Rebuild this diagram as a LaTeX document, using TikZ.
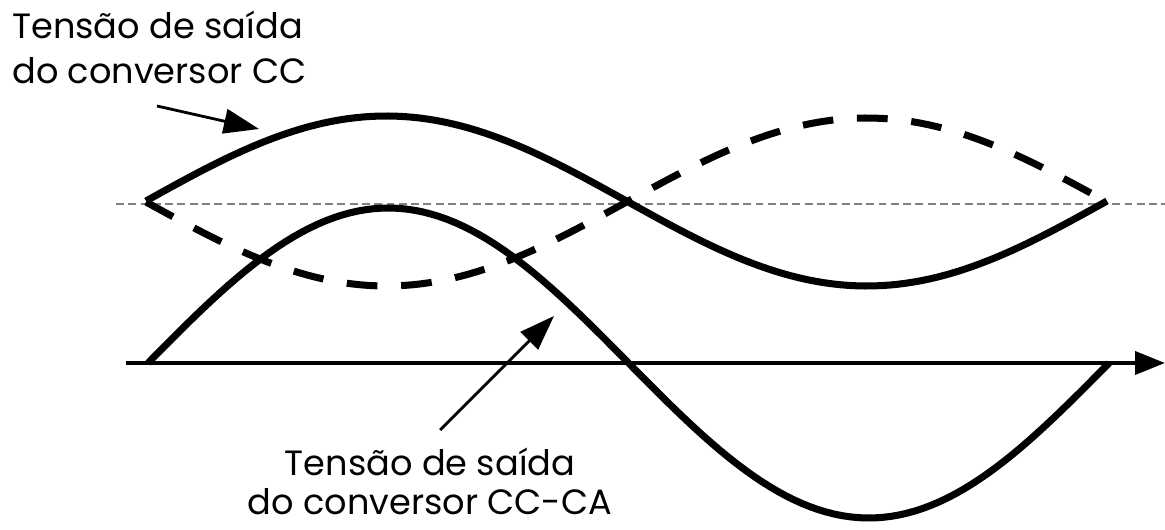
\documentclass[tikz,border=0pt]{standalone}
\usepackage{fontspec}
\setmainfont{Poppins}
\usetikzlibrary{arrows.meta}
\tikzset{
  wave/.style={line width=4pt},
  wavedash/.style={line width=4pt, dash pattern=on 17.5pt off 13.5pt},
  midline/.style={gray, line width=0.8pt, dash pattern=on 4.5pt off 2.5pt},
  axis/.style={line width=2.3pt, -{Triangle[length=17pt,width=13pt]}},
  pointer/.style={line width=1.6pt, -{Triangle[length=20pt,width=14pt]}},
  caption/.style={font=\fontsize{20}{26}\selectfont, inner sep=0pt},
}
\begin{document}
\begin{tikzpicture}[x=0.02cm,y=-0.02cm]
  \useasboundingbox (0,0) rectangle (1165,530);
  % reference level and time axis
  \coordinate (m0) at (116,204);
  \coordinate (m1) at (1165,204);
  \draw[midline] (m0) -- (m1);
  \coordinate (t0) at (126,363);
  \coordinate (t1) at (1165,363);
  \draw[axis] (t0) -- (t1);
  % waveforms
  \draw[wave] plot[domain=146:1107, samples=120] (\x,{201-85*sin((\x-146)/961*360)});
  \draw[wavedash] plot[domain=146:1107, samples=120] (\x,{202+84*sin((\x-146)/961*360)});
  \draw[wave] plot[domain=148:1109, samples=120] (\x,{363-155*sin((\x-148)/961*360)});
  % labels (base = last line)
  \node[caption, anchor=base west, align=left] (dcLabel) at (12,84)
    {Tensão de saída\\do conversor CC};
  \node[caption, anchor=base, align=center, font=\fontsize{20}{22}\selectfont] (acLabel) at (430,514)
    {Tensão de saída\\do conversor CC-CA};
  \coordinate (dcFrom) at (157,106);
  \coordinate (dcTo) at (259,129);
  \draw[pointer] (dcFrom) -- (dcTo);
  \coordinate (acFrom) at (440,430);
  \coordinate (acTo) at (554,316);
  \draw[pointer] (acFrom) -- (acTo);
\end{tikzpicture}
\end{document}
